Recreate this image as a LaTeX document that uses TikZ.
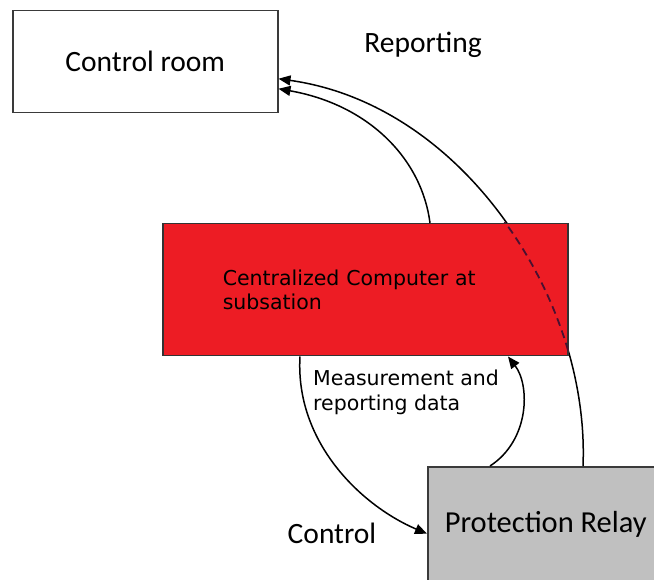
\documentclass[tikz,border=0pt]{standalone}
\usepackage{fontspec}
\setmainfont{Carlito}
\newfontfamily\boxfont{DejaVu Sans}
\usetikzlibrary{calc,arrows.meta}
\definecolor{boxred}{HTML}{ED1C24}
\definecolor{relaygray}{HTML}{C0C0C0}
\definecolor{edgegray}{HTML}{3A3A3A}
\definecolor{dashcol}{HTML}{4A1030}

\begin{document}
\begin{tikzpicture}[x=1pt,y=-1pt,
        box/.style={draw=edgegray, line width=1.5pt, inner sep=0pt, anchor=north west},
        link/.style={line width=1.5pt, -{Triangle[length=12pt,width=10pt]}},
        bigtext/.style={font=\fontsize{29.5}{35}\selectfont},
        smalltext/.style={font=\boxfont\fontsize{20.5}{24.5}\selectfont, align=left}]
        \clip (0,0) rectangle (654,580);

        \node[box, minimum width=265pt, minimum height=102pt, bigtext] (room) at (12,10) {Control room};
        \node[box, fill=relaygray, minimum width=236pt, minimum height=116pt, bigtext, font=\fontsize{30.5}{35}\selectfont] (relay) at (427,466) {Protection Relay};

        % long reporting path, goes behind the computer box
        \coordinate (rs) at ($(relay.north west)+(156,0)$);
        \coordinate (re) at ($(room.east)+(0,17)$);
        \coordinate (ra) at (590,300);
        \coordinate (rb) at (465,105);
        \draw[link] (rs) .. controls (ra) and (rb) .. (re);

        \node[box, fill=boxred, draw=black!80, minimum height=132pt, inner xsep=60pt, text width=285pt, smalltext] (comp) at (162,223) {Centralized Computer at\\subsation};

        \begin{scope}
                \clip (comp.north west) rectangle (comp.south east);
                \draw[line width=1.8pt, dashcol, dash pattern=on 8pt off 5pt] (rs) .. controls (ra) and (rb) .. (re);
        \end{scope}

        \coordinate (cs) at ($(comp.north west)+(268,0)$);
        \draw[link] (cs) .. controls ($(cs)+(-8,-63)$) and (370,105) .. ($(room.east)+(0,27)$);

        \node[bigtext] (rep) at (423,45) {Reporting};

        % control and measurement between computer and relay
        \coordinate (ks) at ($(comp.south west)+(138,0)$);
        \draw[link] (ks) .. controls ($(ks)+(-5,85)$) and (360,505) .. ($(relay.west)+(0,9)$);
        \node[bigtext] (ctl) at (332,533) {Control};

        \coordinate (ms) at ($(relay.north west)+(63,0)$);
        \coordinate (me) at ($(comp.south west)+(346,0)$);
        \draw[link] (ms) .. controls (530,440) and (530,385) .. (me);
        \node[smalltext, anchor=north west, inner sep=0pt] (meas) at (313,370) {Measurement and\\reporting data};
\end{tikzpicture}
\end{document}
